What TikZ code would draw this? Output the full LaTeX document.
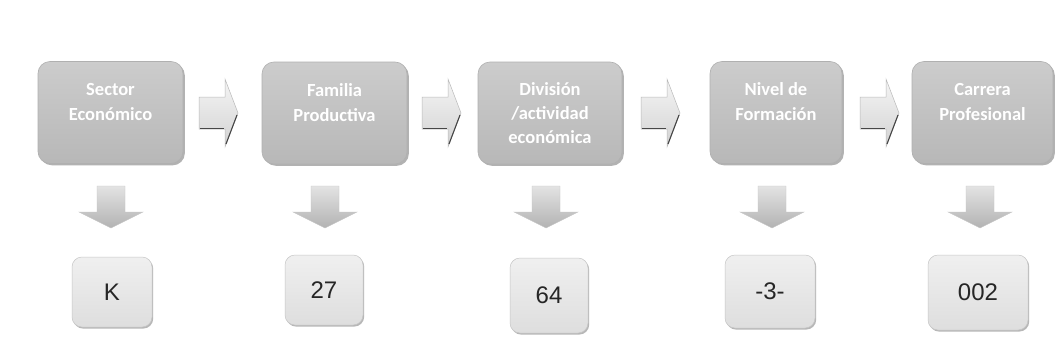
\documentclass[tikz,border=0pt]{standalone}
\usepackage{fontspec}
\setmainfont{Carlito}
\newfontfamily\digitfont{Liberation Sans}
\usetikzlibrary{shadows}
\newcommand{\upsp}{\\[-4pt]\mbox{}}
\tikzset{
  topbox/.style={rounded corners=12pt, top color=gray!40, bottom color=gray!56,
    draw=gray!62, line width=0.6pt, text=white, align=center,
    font=\bfseries\fontsize{18.5}{25}\selectfont, minimum height=102pt,
    drop shadow={shadow xshift=1.8pt, shadow yshift=-1.8pt, fill=gray!75, opacity=0.8}},
  codebox/.style={rounded corners=10pt, top color=gray!12, bottom color=gray!26,
    draw=gray!45, line width=0.5pt, text=black!85, align=center,
    font=\digitfont\fontsize{24}{28}\selectfont,
    drop shadow={shadow xshift=1.2pt, shadow yshift=-1.6pt, fill=gray!70, opacity=0.8}},
  rarrstyle/.style={top color=gray!8, bottom color=gray!35, draw=gray!55, line width=0.5pt},
  darrstyle/.style={top color=gray!22, bottom color=gray!60, draw=gray!45, line width=0.4pt},
  rarr/.pic={\path[rarrstyle] (0,-16) -- (26,-16) -- (26,-34) -- (39,0) -- (26,34) -- (26,16) -- (0,16) -- cycle;
             \draw[gray!55!black, line width=1.1pt] (1,15.4) -- (25,15.4);
             \draw[gray!55!black, line width=1.1pt] (38,2) -- (27,31);},
  darr/.pic={\path[darrstyle] (-14,0) -- (14,0) -- (14,26) -- (32,26) -- (0,42) -- (-32,26) -- (-14,26) -- cycle;}
}
\begin{document}
\begin{tikzpicture}[x=1pt,y=-1pt]
\useasboundingbox[fill=white] (0,0) rectangle (1061,356);
% top boxes
\node[topbox, minimum width=145pt] (t1) at (110.5,112.5) {Sector\\Económico\upsp};
\node[topbox, minimum width=145pt] (t2) at (334.5,113) {Familia\\Productiva\upsp};
\node[topbox, minimum width=144pt, font=\bfseries\fontsize{18.5}{24}\selectfont] (t3) at (550,113) {División\\/actividad\\económica};
\node[topbox, minimum width=132pt] (t4) at (776,112.5) {Nivel de\\Formación\upsp};
\node[topbox, minimum width=141pt] (t5) at (982.5,112.5) {Carrera\\Profesional\upsp};
% right arrows
\pic (r1) at (199,113) {rarr};
\pic (r2) at (422,113) {rarr};
\pic (r3) at (641,113) {rarr};
\pic (r4) at (860,113) {rarr};
% down arrows
\pic (d1) at (111,186) {darr};
\pic (d2) at (325,186) {darr};
\pic (d3) at (546,186) {darr};
\pic (d4) at (772,186) {darr};
\pic (d5) at (980,186) {darr};
% code boxes
\node[codebox, minimum width=80pt, minimum height=70pt] (c1) at (112,292) {K};
\node[codebox, minimum width=78pt, minimum height=70pt] (c2) at (324,290) {27};
\node[codebox, minimum width=78pt, minimum height=75pt] (c3) at (549,295.5) {64};
\node[codebox, minimum width=90pt, minimum height=73pt] (c4) at (770,291.5) {-3-};
\node[codebox, minimum width=100pt, minimum height=75pt] (c5) at (978,292.5) {002};
\end{tikzpicture}
\end{document}
